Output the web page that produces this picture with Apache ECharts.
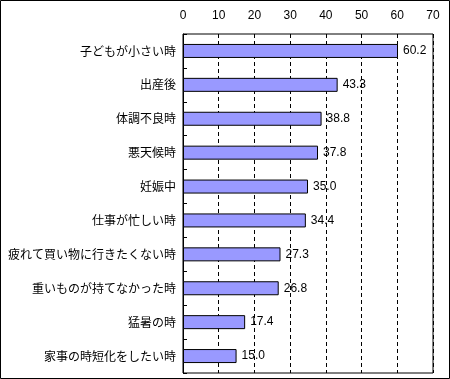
<!DOCTYPE html>
<html><head><meta charset="utf-8">
<script src="https://cdn.jsdelivr.net/npm/echarts@6/dist/echarts.min.js"></script>
<style>html,body{margin:0;padding:0;background:#fff}#c{width:450px;height:379px}</style>
</head><body><div id="c"></div>
<script>
const categories = ["子どもが小さい時","出産後","体調不良時","悪天候時","妊娠中","仕事が忙しい時","疲れて買い物に行きたくない時","重いものが持てなかった時","猛暑の時","家事の時短化をしたい時"];
const values = [60.2, 43.3, 38.8, 37.8, 35.0, 34.4, 27.3, 26.8, 17.4, 15.0];
const axisMin = 0, axisMax = 70, axisStep = 10;

const chart = echarts.init(document.getElementById('c'), null, {renderer: 'canvas'});
chart.setOption({
  animation: false,
  backgroundColor: '#fff',
  graphic: [{type: 'rect', shape: {x: 0.5, y: 0.5, width: 449, height: 378}, style: {fill: 'none', stroke: '#000', lineWidth: 1}, z: 100}],
  grid: {left: 183, right: 17, top: 34, bottom: 6, show: true, borderColor: '#000', borderWidth: 1, containLabel: false},
  xAxis: {
    type: 'value', position: 'top', min: axisMin, max: axisMax, interval: axisStep,
    axisLine: {show: false}, axisTick: {show: false},
    axisLabel: {color: '#000', fontSize: 12, fontFamily: 'Liberation Sans, Arial', margin: 12},
    splitLine: {show: true, lineStyle: {color: '#000', type: [4, 3], width: 1}}
  },
  yAxis: {
    type: 'category', data: categories, inverse: true,
    axisLine: {show: true, lineStyle: {color: '#000'}},
    axisTick: {show: true, inside: true, length: 4, lineStyle: {color: '#000'}},
    axisLabel: {color: '#000', fontSize: 12, fontFamily: 'Noto Sans CJK JP', margin: 7}
  },
  series: [{
    type: 'bar', data: values, barWidth: 14,
    itemStyle: {color: '#9999FF', borderColor: '#000', borderWidth: 1},
    label: {show: true, position: 'right', distance: 5, color: '#000', fontSize: 12, fontFamily: 'Liberation Sans, Arial', formatter: p => p.value.toFixed(1)}
  }]
});
</script></body></html>
